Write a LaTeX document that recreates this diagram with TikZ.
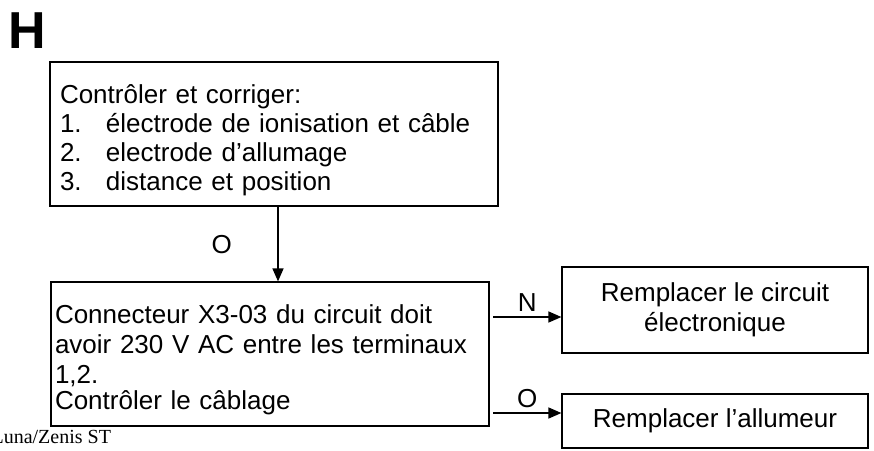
\documentclass[tikz,border=0pt]{standalone}
\usepackage{fontspec}
\setmainfont{Liberation Sans}
\newfontfamily\footfont{Liberation Serif}
\usetikzlibrary{arrows.meta, positioning}

\tikzset{
    stepbox/.style={draw, line width=1.2pt, inner sep=0pt},
    arr/.style={line width=1.4pt, -{Triangle[length=13pt,width=11pt]}},
    lbl/.style={font=\fontsize{26}{30}\selectfont},
}

\begin{document}
\begin{tikzpicture}[x=1pt, y=-1pt]
    \useasboundingbox (0,0) rectangle (874,450);
    % titre
    \node[font=\fontsize{52}{56}\selectfont\bfseries, anchor=west] (titre) at (5,31) {H};
    % boites
    \node[stepbox, line width=2.4pt, minimum width=448pt, minimum height=144pt,
          text width=428pt, align=left, font=\fontsize{26}{29}\selectfont] (ctrl) at (274,134)
        {\rule{0pt}{32pt}Contrôler et corriger:\\
         \makebox[46pt][l]{1.}électrode de ionisation et câble\\
         \makebox[46pt][l]{2.}electrode d’allumage\\
         \makebox[46pt][l]{3.}distance et position};
    \node[stepbox, minimum width=438pt, minimum height=144pt,
          text width=430pt, align=left, font=\fontsize{26}{30}\selectfont] (conn) at (270,354)
        {\rule{0pt}{31pt}Connecteur X3-03 du circuit doit\\
         avoir 230 V AC entre les terminaux\\
         1,2.\\[-4pt]
         Contrôler le câblage};
    \node[stepbox, minimum width=306pt, minimum height=86pt, align=center,
          font=\fontsize{26}{30}\selectfont] (circ) at (715,310)
        {Remplacer le circuit\\ électronique};
    \node[stepbox, minimum width=306pt, minimum height=54pt,
          font=\fontsize{26}{30}\selectfont] (allum) at (715,421)
        {Remplacer l’allumeur};
    % connexions
    \draw[arr] ([xshift=4pt]ctrl.south) -- ([xshift=8pt]conn.north)
        node[lbl, midway, left=42pt] {O};
    \coordinate (n0) at (493,317);
    \coordinate (o0) at (493,413);
    \draw[arr] (n0) -- (n0 -| circ.west) node[lbl, midway, above=1pt] {N};
    \draw[arr] (o0) -- (o0 -| allum.west) node[lbl, midway, above=1pt] {O};
    % pied de page
    \node[font=\footfont\fontsize{20}{24}\selectfont, anchor=west] (pied) at (-12,437) {Luna/Zenis ST};
\end{tikzpicture}
\end{document}
